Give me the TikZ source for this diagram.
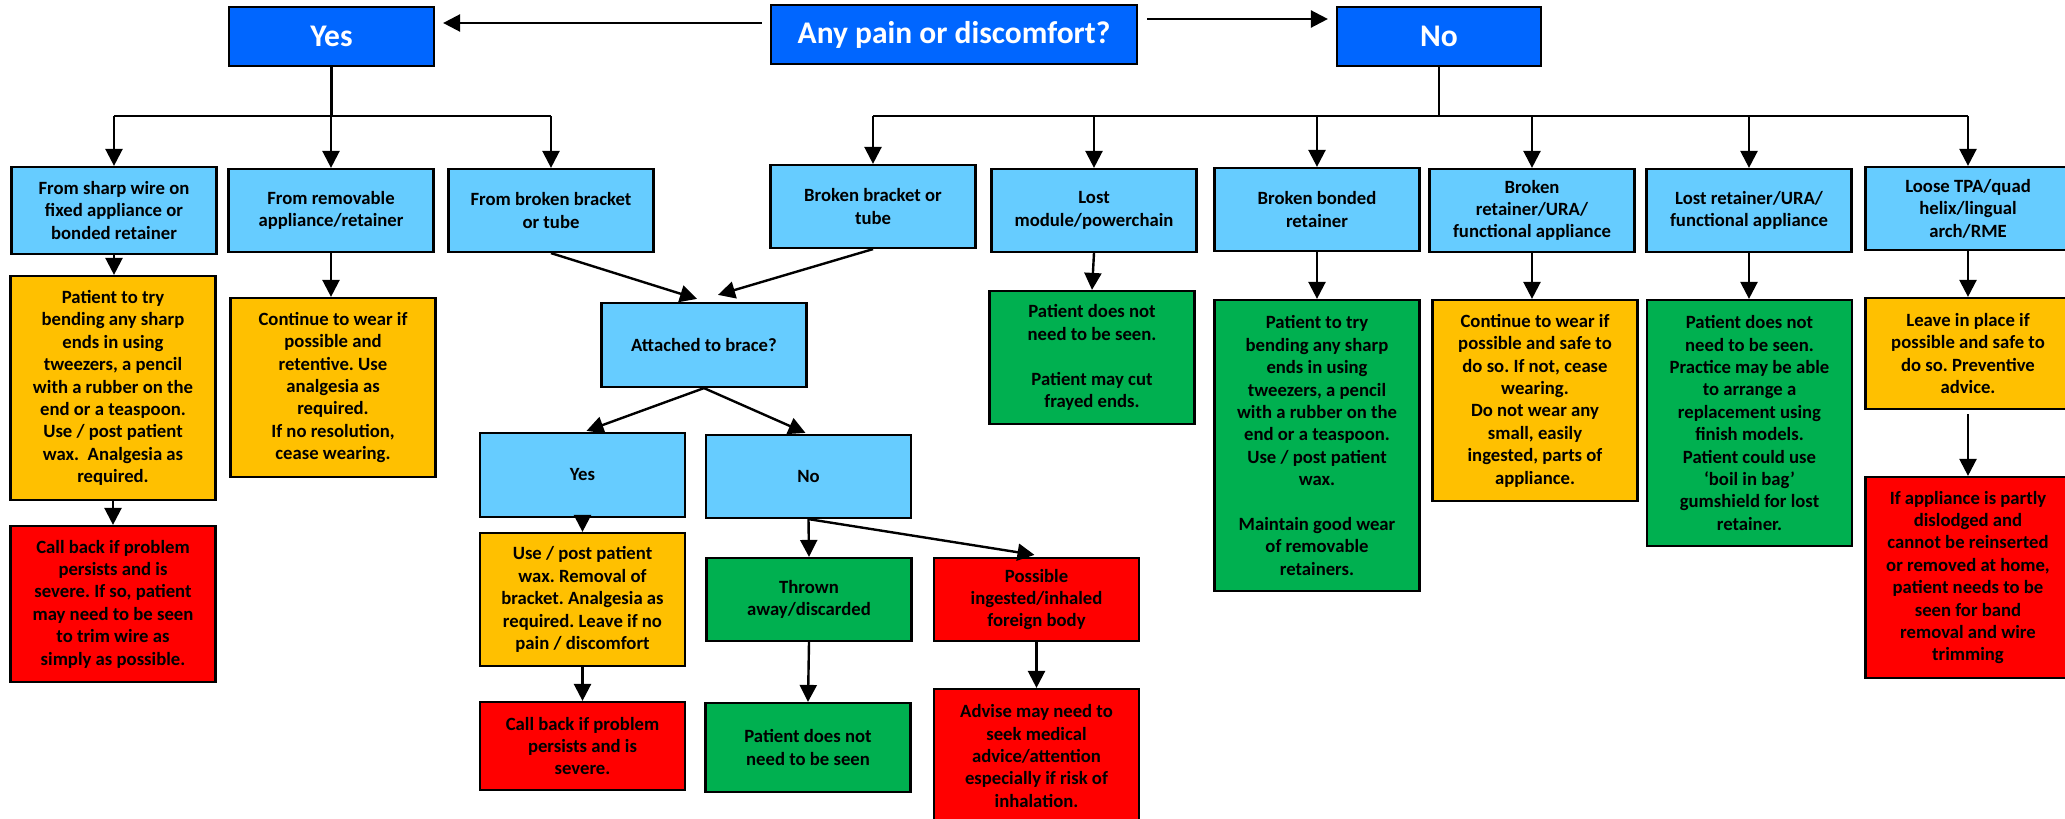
\documentclass[tikz,border=0pt]{standalone}
\usepackage{fontspec}
\setmainfont{Carlito}
\frenchspacing
\usetikzlibrary{arrows.meta,calc}
\definecolor{topblue}{RGB}{0,102,255}
\definecolor{lightblue}{RGB}{102,204,255}
\definecolor{amber}{RGB}{255,192,0}
\definecolor{okgreen}{RGB}{0,176,80}
\definecolor{alertred}{RGB}{255,0,0}
\tikzset{
  box/.style={draw=black, line width=2.2pt, minimum width=205pt, inner sep=0pt, align=center,
    font=\bfseries\fontsize{18.7}{22.4}\selectfont, text=black},
  head/.style={box, fill=topblue, text=white, minimum height=59pt,
    font=\bfseries\fontsize{31.5}{36}\selectfont},
  qbox/.style={box, fill=lightblue},
  ybox/.style={box, fill=amber},
  gbox/.style={box, fill=okgreen},
  rbox/.style={box, fill=alertred},
  arr/.style={line width=2.4pt, -{Triangle[length=17pt,width=17pt]}},
  ln/.style={line width=2.4pt},
}
\begin{document}
\begin{tikzpicture}[x=1pt,y=-1pt]
\useasboundingbox (0,0) rectangle (2065,819);
\clip (0,0) rectangle (2065,819);
\fill[white] (0,0) rectangle (2065,819);

% top
\node[head] (yes) at (331.5,36.5) {Yes};
\node[head, minimum width=366pt] (anyp) at (954,34.5) {Any pain or discomfort?};
\node[head, minimum width=204pt] (no) at (1439,36.5) {No};

% row 1
\node[qbox, minimum height=87pt] (A) at (114,210.5) {From sharp wire on\\fixed appliance or\\bonded retainer};
\node[qbox, minimum height=83pt] (B) at (331,210.5) {From removable\\appliance/retainer};
\node[qbox, minimum height=83pt] (C) at (551,210.5) {From broken bracket\\or tube};
\node[qbox, minimum height=83pt] (D) at (873,206.5) {Broken bracket or\\tube};
\node[qbox, minimum height=83pt] (E) at (1094,210.5) {Lost\\module/powerchain};
\node[qbox, minimum height=83pt] (F) at (1317,209.5) {Broken bonded\\retainer};
\node[qbox, minimum height=83pt] (G) at (1532,210.5) {Broken\\retainer/URA/\\functional appliance};
\node[qbox, minimum height=83pt] (H) at (1749,210.5) {Lost retainer/URA/\\functional appliance};
\node[qbox, minimum height=83pt] (I) at (1968,208.5) {Loose TPA/quad\\helix/lingual\\arch/RME};

% left column
\node[ybox, minimum height=224pt] (A2) at (113,388) {Patient to try\\bending any sharp\\ends in using\\tweezers, a pencil\\with a rubber on the\\end or a teaspoon.\\Use / post patient\\wax.\ \ Analgesia as\\required.};
\node[rbox, minimum height=156pt] (A3) at (113,604) {Call back if problem\\persists and is\\severe. If so, patient\\may need to be seen\\to trim wire as\\simply as possible.};
\node[ybox, minimum height=179pt] (B2) at (333,387.5) {Continue to wear if\\possible and\\retentive. Use\\analgesia as\\required.\\If no resolution,\\cease wearing.};

% bracket branch
\node[qbox, minimum height=84pt] (att) at (704,345) {Attached to brace?};
\node[qbox, minimum height=84pt] (yes2) at (582.5,475) {Yes};
\node[qbox, minimum height=83pt] (no2) at (808.5,476.5) {No};
\node[ybox, minimum height=133pt] (y3) at (582.5,599.5) {Use / post patient\\wax. Removal of\\bracket. Analgesia as\\required. Leave if no\\pain / discomfort};
\node[rbox, minimum height=88pt] (y4) at (582.5,746) {Call back if problem\\persists and is\\severe.};
\node[gbox, minimum height=83pt] (n3) at (809,599.5) {Thrown\\away/discarded};
\node[rbox, minimum height=83pt] (n4) at (1036.5,599.5) {Possible\\ingested/inhaled\\foreign body};
\node[gbox, minimum height=89pt] (n5) at (808,747.5) {Patient does not\\need to be seen};
\node[rbox, minimum height=134pt] (n6) at (1036.5,756) {Advise may need to\\seek medical\\advice/attention\\especially if risk of\\inhalation.};

% right columns
\node[gbox, minimum height=133pt] (E2) at (1092,357.5) {Patient does not\\need to be seen.\\[22.4pt]Patient may cut\\frayed ends.};
\node[gbox, minimum height=291pt] (F2) at (1317,445.5) {Patient to try\\bending any sharp\\ends in using\\tweezers, a pencil\\with a rubber on the\\end or a teaspoon.\\Use / post patient\\wax.\\[22.4pt]Maintain good wear\\of removable\\retainers.};
\node[ybox, minimum height=201pt] (G2) at (1535,400.5) {Continue to wear if\\possible and safe to\\do so. If not, cease\\wearing.\\Do not wear any\\small, easily\\ingested, parts of\\appliance.};
\node[gbox, minimum height=246pt] (H2) at (1749.5,423) {Patient does not\\need to be seen.\\Practice may be able\\to arrange a\\replacement using\\finish models.\\Patient could use\\‘boil in bag’\\gumshield for lost\\retainer.};
\node[ybox, minimum height=111pt] (I2) at (1968,353.5) {Leave in place if\\possible and safe to\\do so. Preventive\\advice.};
\node[rbox, minimum height=201pt] (I3) at (1968,577.5) {If appliance is partly\\dislodged and\\cannot be reinserted\\or removed at home,\\patient needs to be\\seen for band\\removal and wire\\trimming};

% top arrows
\draw[arr] ($(anyp.west)+(-8,-11.5)$) -- ($(yes.east)+(8,-13.5)$);
\draw[arr] ($(anyp.east)+(9,-15.5)$) -- ($(no.west)+(-8,-17.5)$);

% yes tree
\coordinate (yh) at (331.5,116);
\draw[ln] (yes.south) -- (yh);
\draw[ln] (A.north |- yh) -- (C.north |- yh);
\draw[arr] (A.north |- yh) -- (A.north);
\draw[arr] (B.north |- yh) -- (B.north);
\draw[arr] (C.north |- yh) -- (C.north);

% no tree
\coordinate (nh) at (1439,116);
\draw[ln] (no.south) -- (nh);
\draw[ln] (D.north |- nh) -- (I.north |- nh);
\foreach \n in {D,E,F,G,H,I}{
  \draw[arr] (\n.north |- nh) -- (\n.north);
}

% row 1 to row 2
\draw[arr] (A.south) -- (A.south |- A2.north);
\draw[arr] (A2.south) -- (A3.north);
\draw[arr] (B.south) -- (B.south |- B2.north);
\draw[arr] (C.south) -- ($(att.north)+(-7,-3)$);
\draw[arr] (D.south) -- ($(att.north)+(14,-7)$);
\draw[arr] (att.south) -- ($(yes2.north)+(4,-1)$);
\draw[arr] (att.south) -- ($(no2.north)+(-3,-1)$);
\draw[arr] (yes2.south) -- (y3.north);
\draw[arr] (y3.south) -- (y4.north);
\draw[arr] (no2.south) -- (n3.north);
\draw[arr] (no2.south) -- ($(n4.north)+(-2,-2)$);
\draw[arr] (n3.south) -- (n5.north);
\draw[arr] (n4.south) -- (n6.north);
\draw[arr] (E.south) -- (E2.north);
\draw[arr] (F.south) -- (F2.north);
\draw[arr] (G.south) -- (G.south |- G2.north);
\draw[arr] (H.south) -- (H.south |- H2.north);
\draw[arr] (I.south) -- (I2.north);
\draw[arr] ($(I2.south)+(0,4)$) -- (I3.north);
\end{tikzpicture}
\end{document}
